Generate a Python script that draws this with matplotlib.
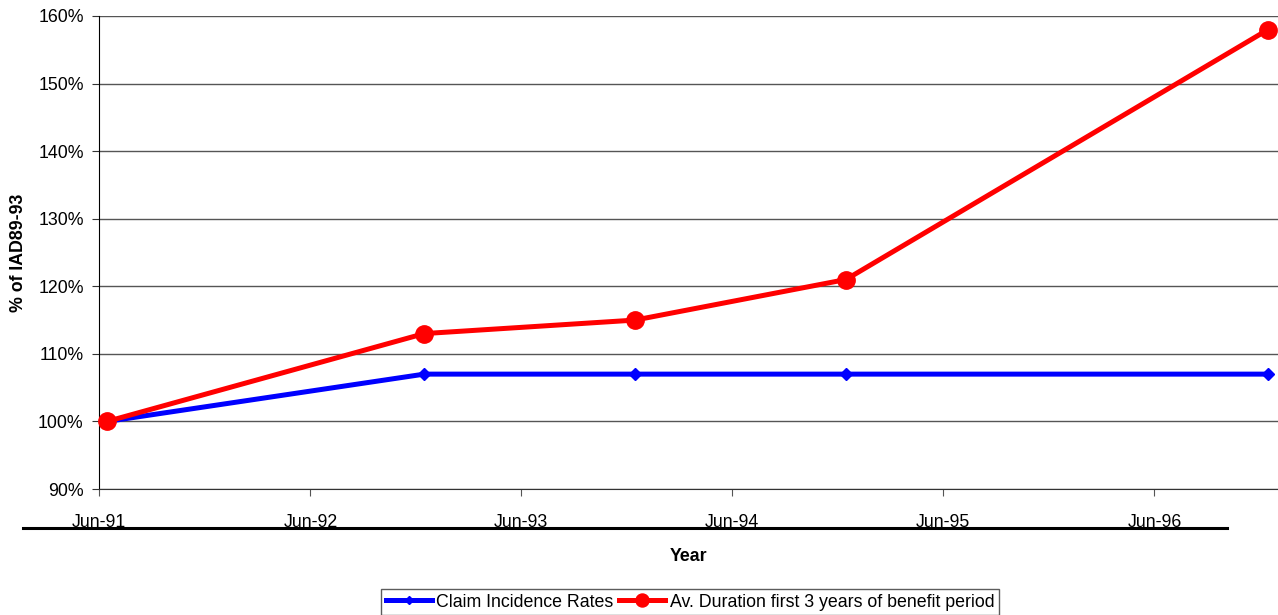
import datetime as dt
import matplotlib
matplotlib.use("Agg")
import matplotlib.pyplot as plt
import matplotlib.dates as mdates
from matplotlib.lines import Line2D
from matplotlib.ticker import FuncFormatter

plt.rcParams['font.family'] = ['Liberation Sans', 'DejaVu Sans']

# data points (mid-month observations)
dates = [dt.date(1991, 6, 15), dt.date(1992, 12, 15), dt.date(1993, 12, 15),
         dt.date(1994, 12, 15), dt.date(1996, 12, 15)]
claim_incidence = [100, 107, 107, 107, 107]
av_duration = [100, 113, 115, 121, 158]
tick_dates = [dt.date(y, 6, 1) for y in range(1991, 1997)]
tick_labels = ['Jun-91', 'Jun-92', 'Jun-93', 'Jun-94', 'Jun-95', 'Jun-96']

FS = 12.8
fig = plt.figure(figsize=(12.78, 6.15), dpi=100)
W, H = 1278, 615
ax = fig.add_axes([99 / W, 1 - 489 / H, (1278 - 99) / W, (489 - 16) / H])

ax.plot(dates, claim_incidence, color='#0000ff', lw=3.6, marker='D', ms=6,
        label='Claim Incidence Rates', clip_on=False, zorder=3)
ax.plot(dates, av_duration, color='#ff0000', lw=3.6, marker='o', ms=12.5,
        label='Av. Duration first 3 years of benefit period', clip_on=False, zorder=4)

ax.set_xlim(dt.date(1991, 6, 1), dt.date(1997, 1, 1))
ax.set_ylim(90, 160)
ax.set_yticks(range(90, 161, 10))
ax.yaxis.set_major_formatter(FuncFormatter(lambda v, p: f'{v:.0f}%'))
ax.set_xticks([mdates.date2num(d) for d in tick_dates])
ax.set_xticklabels(tick_labels)

ax.grid(axis='y', color='#555555', lw=1)
ax.set_axisbelow(True)
for s in ['top', 'right']:
    ax.spines[s].set_visible(False)
ax.spines['left'].set_color('black')
ax.spines['bottom'].set_color('#333333')
ax.tick_params(axis='y', length=5, pad=6, labelsize=FS, color='#333333')
ax.tick_params(axis='x', length=5, pad=13, labelsize=FS, color='#555555')

ax.set_ylabel('% of IAD89-93', fontsize=FS, fontweight='bold', labelpad=8)
ax.set_xlabel('Year', fontsize=FS, fontweight='bold', labelpad=12)

# heavy rule under the date labels
fig.add_artist(Line2D([23 / W, 1227 / W], [1 - 528 / H, 1 - 528 / H],
                      color='black', lw=2.2, transform=fig.transFigure))

leg = fig.legend(loc='lower center', bbox_to_anchor=(690 / W, -9 / H), ncol=2,
                 fontsize=FS, frameon=True, fancybox=False, handlelength=2.6,
                 handletextpad=0.25, columnspacing=0.3, borderpad=0.25,
                 markerscale=0.75)
leg.get_frame().set_edgecolor('#333333')
leg.get_frame().set_linewidth(1)

fig.savefig('out.png', dpi=100)
